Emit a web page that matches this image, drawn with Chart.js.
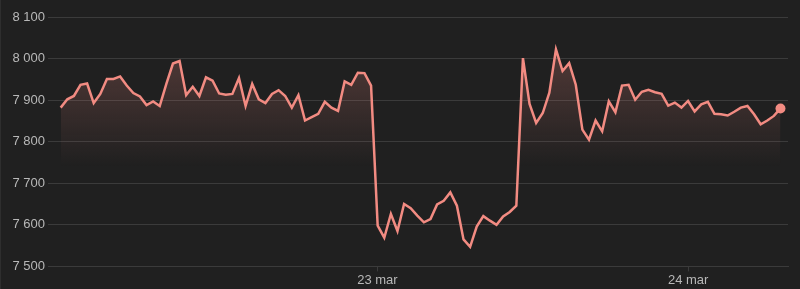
<!DOCTYPE html>
<html>
<head>
<meta charset="utf-8">
<script src="https://cdn.jsdelivr.net/npm/chart.js@4/dist/chart.umd.min.js"></script>
<style>
  html, body { margin: 0; padding: 0; background: #202020; }
  #wrap { width: 800px; height: 289px; position: relative; box-sizing: border-box; border-left: 1px solid #2e2e2e; }
  canvas { display: block; }
</style>
</head>
<body>
<div id="wrap"><canvas id="c" width="799" height="289"></canvas></div>
<script>
// Time axis: hours relative to 22 mar 00:00
const startHour = -0.46;
const stepHours = 0.51;
const dayTicks = [24, 48];
const dayTickLabels = ['23 mar', '24 mar'];
const yTicks = [7500, 7600, 7700, 7800, 7900, 8000, 8100];

const prices = [
  7882, 7902, 7910, 7937, 7940, 7893, 7915, 7951, 7951, 7957,
  7935, 7917, 7909, 7888, 7897, 7886, 7939, 7988, 7994, 7912,
  7932, 7910, 7955, 7947, 7916, 7913, 7915, 7953, 7886, 7939,
  7902, 7893, 7915, 7924, 7910, 7882, 7912, 7851, 7859, 7867,
  7896, 7882, 7874, 7945, 7937, 7966, 7965, 7935, 7598, 7569,
  7626, 7585, 7650, 7640, 7622, 7606, 7614, 7649, 7658, 7678,
  7646, 7565, 7547, 7596, 7621, 7610, 7600, 7620, 7631, 7646,
  8001, 7891, 7845, 7869, 7918, 8022, 7970, 7989, 7937, 7829,
  7805, 7851, 7825, 7897, 7871, 7935, 7937, 7901, 7920, 7925,
  7919, 7915, 7887, 7894, 7882, 7898, 7873, 7890, 7896, 7867,
  7866, 7863, 7872, 7882, 7886, 7866, 7842, 7851, 7862, 7880
];

const points = prices.map((v, i) => ({ x: startHour + i * stepHours, y: v }));

const LINE = '#f28b82';
const GRID = '#3b3b3b';
const TEXT = '#b8b8b8';
const FONT = { family: '"Liberation Sans", Arial, sans-serif', size: 13 };

function fmt(v) {
  const th = Math.floor(v / 1000);
  const rest = String(Math.round(v % 1000)).padStart(3, '0');
  return th + ' ' + rest;
}

new Chart(document.getElementById('c'), {
  type: 'line',
  data: {
    datasets: [{
      data: points,
      borderColor: LINE,
      borderWidth: 2.5,
      tension: 0,
      fill: 'start',
      backgroundColor: (ctx) => {
        const ch = ctx.chart;
        const area = ch.chartArea;
        if (!area) return 'rgba(242,139,130,0.15)';
        const y = ch.scales.y;
        const g = ch.ctx.createLinearGradient(0, area.top, 0, y.getPixelForValue(7740));
        g.addColorStop(0, 'rgba(242,139,130,0.30)');
        g.addColorStop(1, 'rgba(242,139,130,0)');
        return g;
      },
      pointRadius: (ctx) => ctx.dataIndex === prices.length - 1 ? 5 : 0,
      pointBackgroundColor: LINE,
      pointBorderColor: LINE,
      pointBorderWidth: 0
    }]
  },
  options: {
    responsive: false,
    animation: false,
    events: [],
    layout: { padding: { top: 17, right: 12, bottom: 0, left: 0 } },
    plugins: { legend: { display: false }, tooltip: { enabled: false } },
    scales: {
      x: {
        type: 'linear',
        min: -1.44,
        max: 55.71,
        afterBuildTicks: (s) => { s.ticks = dayTicks.map(v => ({ value: v })); },
        ticks: {
          color: TEXT, font: FONT, padding: 1, maxRotation: 0,
          callback: (v) => { const i = dayTicks.indexOf(v); return i >= 0 ? dayTickLabels[i] : ''; }
        },
        grid: { drawOnChartArea: false, drawTicks: true, tickLength: 5, color: GRID },
        border: { display: true, color: GRID, width: 1 }
      },
      y: {
        min: 7500,
        max: 8100,
        afterBuildTicks: (s) => { s.ticks = yTicks.map(v => ({ value: v })); },
        afterFit: (s) => { s.width = 47; },
        ticks: { color: TEXT, font: FONT, padding: 3, callback: (v) => fmt(v) },
        grid: { color: GRID, drawTicks: false, lineWidth: 1 },
        border: { display: false }
      }
    }
  }
});
</script>
</body>
</html>
